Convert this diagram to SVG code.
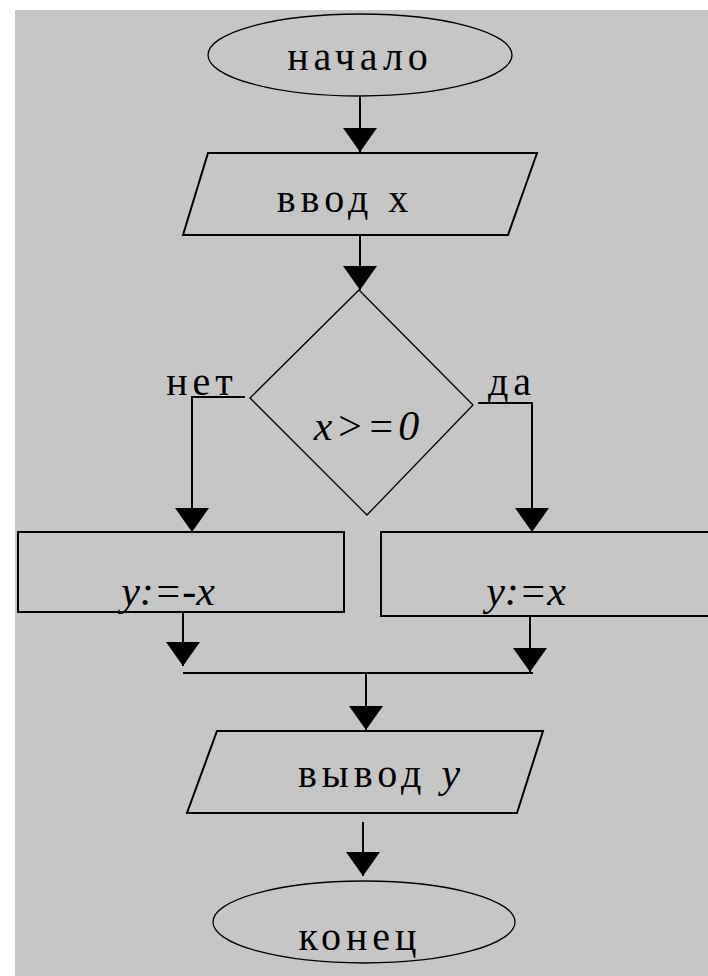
<svg xmlns="http://www.w3.org/2000/svg" width="708" height="976" viewBox="0 0 708 976">
<style>
.shape{fill:none;stroke:#000;stroke-width:2}
.thin{fill:none;stroke:#000;stroke-width:1.3}
.conn{fill:none;stroke:#000;stroke-width:2}
text{fill:#000}
</style>
<defs>
<marker id="ah" markerUnits="userSpaceOnUse" markerWidth="26" markerHeight="36" refX="24" refY="17" orient="auto" viewBox="0 0 26 36">
<path d="M0,0 L24,17 L0,34 z" fill="#000"/>
</marker>
</defs>
<rect x="0" y="0" width="708" height="976" fill="#fff"/>
<rect x="15" y="10" width="693" height="966" fill="#c6c6c6"/>
<g id="start">
<ellipse class="thin" cx="360" cy="55" rx="152" ry="41"/>
<text font-family="Liberation Serif, DejaVu Serif, serif" font-size="40" letter-spacing="5" x="360" y="70" text-anchor="middle">начало</text>
</g>
<g id="input">
<polygon class="shape" points="208,153 537,153 508,235 183,235"/>
<text font-family="Liberation Serif, DejaVu Serif, serif" font-size="40" letter-spacing="5" x="345" y="212" text-anchor="middle">ввод x</text>
</g>
<g id="cond">
<polygon class="thin" points="359,290 473,405 367,515 250,398"/>
<text font-family="Liberation Serif, DejaVu Serif, serif" font-style="italic" font-size="42" x="368" y="440" text-anchor="middle" letter-spacing="3">x&gt;=0</text>
</g>
<g id="neg">
<rect class="shape" x="18" y="532" width="326" height="80"/>
<text font-family="Liberation Serif, DejaVu Serif, serif" font-style="italic" font-size="42" x="168" y="605" text-anchor="middle">y:=-x</text>
</g>
<g id="pos">
<rect class="shape" x="381" y="532" width="340" height="84"/>
<text font-family="Liberation Serif, DejaVu Serif, serif" font-style="italic" font-size="42" x="526" y="605" text-anchor="middle">y:=x</text>
</g>
<g id="output">
<polygon class="shape" points="217,731 543,731 517,813 187,813"/>
<text font-family="Liberation Serif, DejaVu Serif, serif" font-size="40" x="379" y="787" text-anchor="middle"><tspan letter-spacing="5">вывод </tspan><tspan font-style="italic" font-size="42">y</tspan></text>
</g>
<g id="end">
<ellipse class="thin" cx="364" cy="922" rx="151" ry="41"/>
<text font-family="Liberation Serif, DejaVu Serif, serif" font-size="40" letter-spacing="5" x="360" y="950" text-anchor="middle">конец</text>
</g>
<g id="connectors">
<path class="conn" d="M360,96 V152" marker-end="url(#ah)"/>
<path class="conn" d="M360,235 V290" marker-end="url(#ah)"/>
<path class="conn" d="M245,397 H192 V532" marker-end="url(#ah)"/>
<path class="conn" d="M478,403 H532 V532" marker-end="url(#ah)"/>
<path class="conn" d="M183,612 V666" marker-end="url(#ah)"/>
<path class="conn" d="M530,616 V672" marker-end="url(#ah)"/>
<path class="conn" d="M183,673 H533"/>
<path class="conn" d="M366,673 V730" marker-end="url(#ah)"/>
<path class="conn" d="M363,822 V876" marker-end="url(#ah)"/>
<text font-family="Liberation Serif, DejaVu Serif, serif" font-size="40" letter-spacing="5" x="202" y="395" text-anchor="middle">нет</text>
<text font-family="Liberation Serif, DejaVu Serif, serif" font-size="40" letter-spacing="5" x="512" y="395" text-anchor="middle">да</text>
</g>
</svg>
